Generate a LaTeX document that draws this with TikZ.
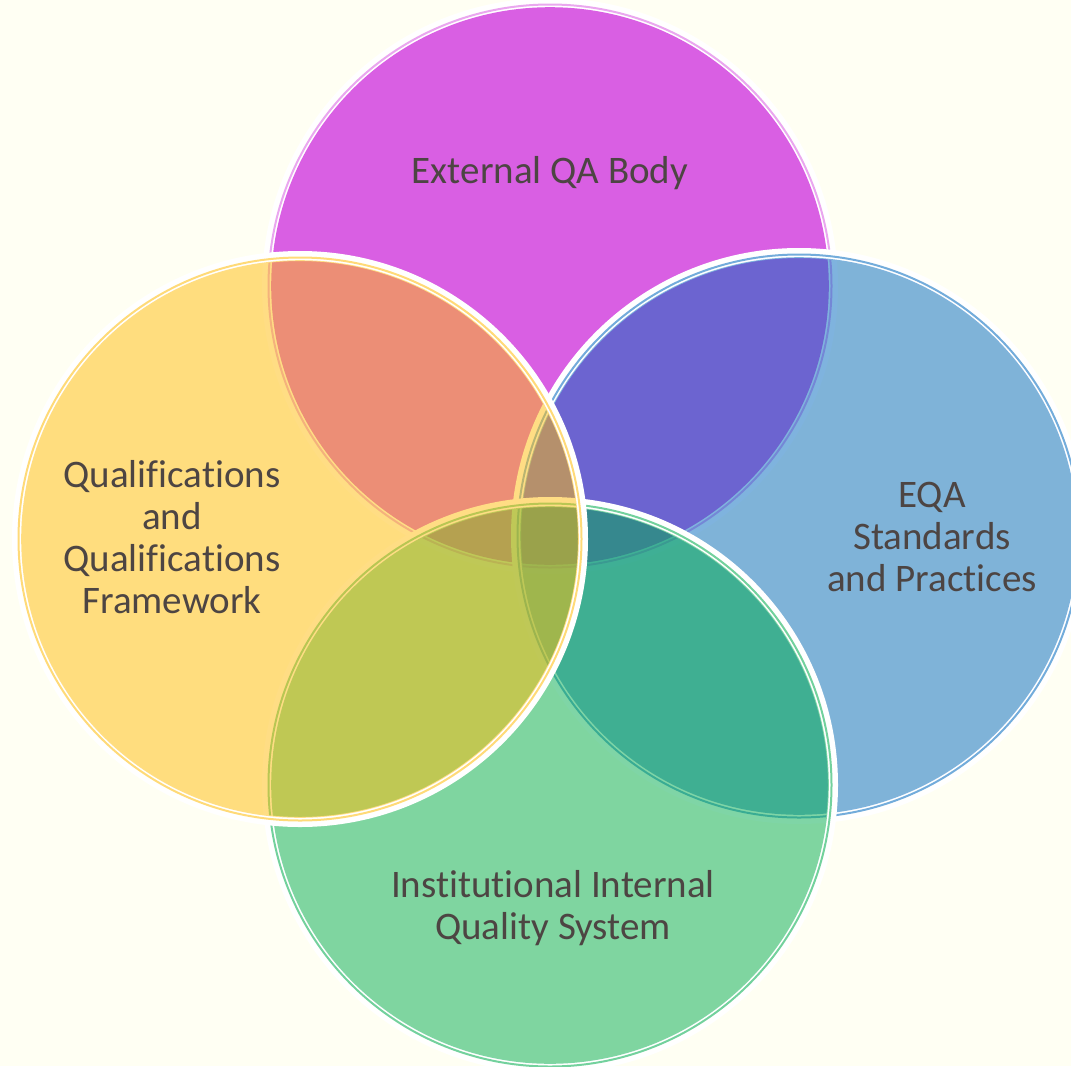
\documentclass[tikz,border=0pt]{standalone}
\usepackage{fontspec}
\setmainfont{Carlito}[Ligatures=NoCommon]
\definecolor{bgc}{RGB}{255,255,243}
\definecolor{topc}{RGB}{217,95,227}
\definecolor{rightc}{RGB}{0,105,190}
\definecolor{botc}{RGB}{1,173,78}
\definecolor{leftc}{RGB}{255,189,10}
\definecolor{txt}{RGB}{77,69,67}
\tikzset{
  whitering/.style={draw=white, line width=10pt},
  edgeline/.style={line width=2pt, draw opacity=0.55},
  label/.style={text=txt, align=center, font=\fontsize{39}{42}\selectfont, inner sep=0pt},
}
\begin{document}
\begin{tikzpicture}[x=1pt,y=-1pt]
\fill[bgc] (0,0) rectangle (1071,1066);
\useasboundingbox (0,0) rectangle (1071,1066);
\clip (0,0) rectangle (1071,1066);
\coordinate (ctop) at (550,286);
\coordinate (cright) at (799,536);
\coordinate (cbot) at (550,785);
\coordinate (cleft) at (300,539);
% top
\draw[whitering] (ctop) circle (283);
\draw[edgeline, draw=topc] (ctop) circle (281.5);
\fill[topc] (ctop) circle (278.8);
% right
\draw[whitering] (cright) circle (283);
\draw[edgeline, draw=rightc] (cright) circle (281.5);
\fill[rightc, fill opacity=0.5] (cright) circle (278.8);
% bottom
\draw[whitering] (cbot) circle (283);
\draw[edgeline, draw=botc] (cbot) circle (281.5);
\fill[botc, fill opacity=0.5] (cbot) circle (278.8);
% left
\draw[whitering] (cleft) circle (283);
\draw[edgeline, draw=leftc] (cleft) circle (281.5);
\fill[leftc, fill opacity=0.5] (cleft) circle (278.8);
% labels
\node[label, anchor=base] (ttop) at (550,183) {External QA Body};
\node[label] (tleft) at (172,537) {Qualifications\\and\\Qualifications\\Framework};
\node[label] (tright) at (932,537) {EQA\\Standards\\and Practices};
\node[label] (tbot) at (553,908) {Institutional Internal\\Quality System};
\end{tikzpicture}
\end{document}
